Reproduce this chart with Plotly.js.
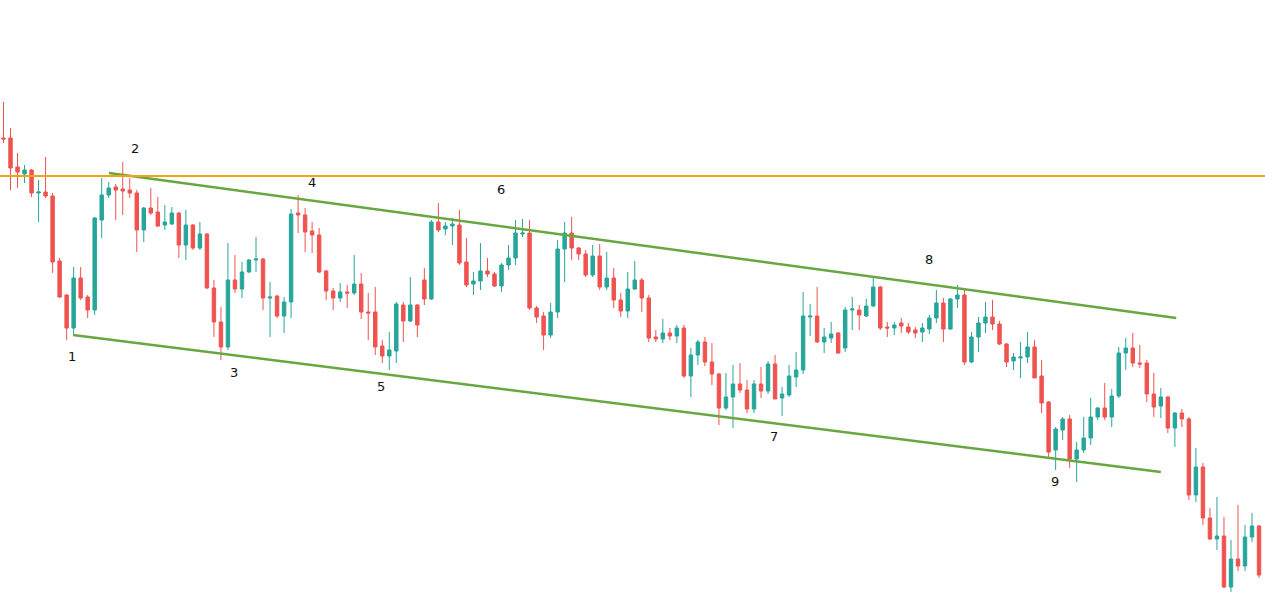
<!DOCTYPE html>
<html><head><meta charset="utf-8">
<script src="https://cdn.plot.ly/plotly-3.0.1.min.js"></script>
<style>html,body{margin:0;padding:0;background:#fff;}#chart{width:1265px;height:605px;}</style>
</head><body><div id="chart"></div>
<script>
const open  = [467,467,438,431,435,412,413,409,344,310,277,327,308,295,385,410,418,416,415,412,375,397,393,380,381,392,360,380,357,371,317,283,258,325,316,333,345,346,307,309,289,303,392,390,374,370,334,314,307,313,312,321,293,293,259,249,254,300,284,300,325,306,383,376,379,380,343,321,324,334,331,319,340,347,371,372,297,289,270,293,356,372,357,351,330,349,318,327,305,294,316,325,307,268,266,272,269,277,229,250,263,243,231,197,208,221,215,196,221,214,241,207,210,228,235,288,289,263,267,272,257,295,295,289,299,318,278,277,282,278,275,273,276,287,302,276,306,310,243,268,282,288,281,261,244,247,248,258,229,203,155,175,186,146,155,167,188,197,188,209,252,257,242,242,211,199,208,177,192,186,110,138,87,66,69,18,46,39,68,79];
const high  = [503,477,452,440,436,425,448,412,347,311,338,338,310,388,427,423,421,443,427,415,398,417,408,400,398,393,395,381,383,372,325,298,362,350,343,346,368,347,323,310,308,396,410,397,383,377,335,317,322,320,350,332,312,318,265,273,303,303,328,301,337,385,402,383,387,395,367,333,362,347,333,342,360,385,386,385,299,293,302,365,383,388,358,355,360,361,353,337,312,333,344,327,310,275,286,277,280,280,257,265,268,262,232,232,240,242,225,225,238,244,250,218,240,253,313,301,318,277,283,273,298,308,300,306,328,319,283,283,287,282,278,282,290,315,307,307,320,317,273,288,303,305,284,262,252,263,273,265,245,204,178,188,190,163,188,207,198,222,216,258,267,272,260,245,232,217,209,193,196,188,157,142,97,108,88,65,100,80,92,80];
const low   = [462,415,417,422,408,383,407,332,307,265,270,305,287,290,367,407,385,390,407,353,363,390,378,375,380,347,345,355,355,316,268,245,255,312,307,332,333,295,268,287,272,287,372,353,352,332,305,295,303,297,310,286,265,250,242,235,242,263,283,268,300,305,373,370,360,340,318,310,315,328,318,313,335,340,368,295,282,255,267,287,323,345,345,328,328,315,315,297,288,287,315,293,263,263,262,265,262,227,208,240,239,220,180,195,177,212,192,192,207,211,206,189,208,218,231,269,262,252,262,251,253,275,275,288,298,275,268,270,272,271,267,263,271,282,263,275,297,240,242,253,272,275,260,238,235,227,242,227,192,147,135,165,137,123,152,160,185,185,178,207,235,238,237,203,188,187,172,158,178,105,103,80,65,55,17,13,34,34,63,27];
const close = [466,437,433,435,412,413,409,343,308,277,327,307,295,387,410,417,415,414,412,375,397,392,379,383,392,360,380,357,371,317,283,258,325,316,333,345,346,307,308,289,303,391,390,373,370,333,314,307,313,312,321,293,292,258,249,255,301,284,300,280,306,383,375,379,381,342,320,324,334,331,319,340,347,372,372,297,288,270,293,356,372,357,351,330,349,318,327,305,294,316,325,307,267,266,272,269,277,229,250,263,243,231,197,208,221,215,196,221,214,241,206,211,229,235,289,289,263,268,271,252,295,296,290,299,318,277,277,280,279,273,272,277,287,302,276,306,310,243,268,282,288,281,261,243,248,248,258,227,202,153,176,186,146,155,167,188,197,188,209,252,257,242,241,211,198,208,177,192,186,110,138,87,66,69,18,46,39,68,79,30];

// horizontal resistance level and channel lines (price units)
const resistanceLevel = 429;
const upperChannel = {x: [15.04, 167.2], y: [432, 287]};
const lowerChannel = {x: [9.91, 165.0], y: [270, 133]};

// wave labels
const labelText = ['1','2','3','4','5','6','7','8','9'];
const labelX    = [9.76, 18.74, 32.84, 43.94, 53.84, 70.94, 109.84, 131.94, 149.94];
const labelY    = [249, 457, 233, 423, 219, 416, 169, 346, 124];

const idx = open.map((_, i) => i);

const candle = {
  type: 'candlestick', x: idx, open: open, high: high, low: low, close: close,
  increasing: {line: {color: '#26a69a', width: 1}, fillcolor: '#26a69a'},
  decreasing: {line: {color: '#ef5350', width: 1}, fillcolor: '#ef5350'},
  whiskerwidth: 0, hoverinfo: 'skip', showlegend: false
};
const green = 'rgb(104,166,64)';
const upper = {type: 'scatter', mode: 'lines', x: upperChannel.x, y: upperChannel.y,
  line: {color: green, width: 2.5}, hoverinfo: 'skip', showlegend: false};
const lower = {type: 'scatter', mode: 'lines', x: lowerChannel.x, y: lowerChannel.y,
  line: {color: green, width: 2.5}, hoverinfo: 'skip', showlegend: false};

const annotations = labelText.map((t, i) => ({
  x: labelX[i], y: labelY[i], text: t, showarrow: false, xref: 'x', yref: 'y',
  font: {family: 'DejaVu Sans, Verdana, sans-serif', size: 13, color: '#111'}
}));

const layout = {
  width: 1265, height: 605,
  margin: {l: 0, r: 0, t: 0, b: 0},
  paper_bgcolor: '#fff', plot_bgcolor: '#fff',
  xaxis: {range: [-0.499, 179.85], visible: false, rangeslider: {visible: false}, fixedrange: true},
  yaxis: {range: [0, 605], visible: false, fixedrange: true},
  shapes: [{type: 'line', xref: 'paper', x0: 0, x1: 1, yref: 'y', y0: resistanceLevel, y1: resistanceLevel,
    line: {color: 'rgb(240,165,20)', width: 2}}],
  annotations: annotations,
  showlegend: false
};

Plotly.newPlot('chart', [candle, upper, lower], layout, {staticPlot: true, displayModeBar: false});
</script></body></html>
